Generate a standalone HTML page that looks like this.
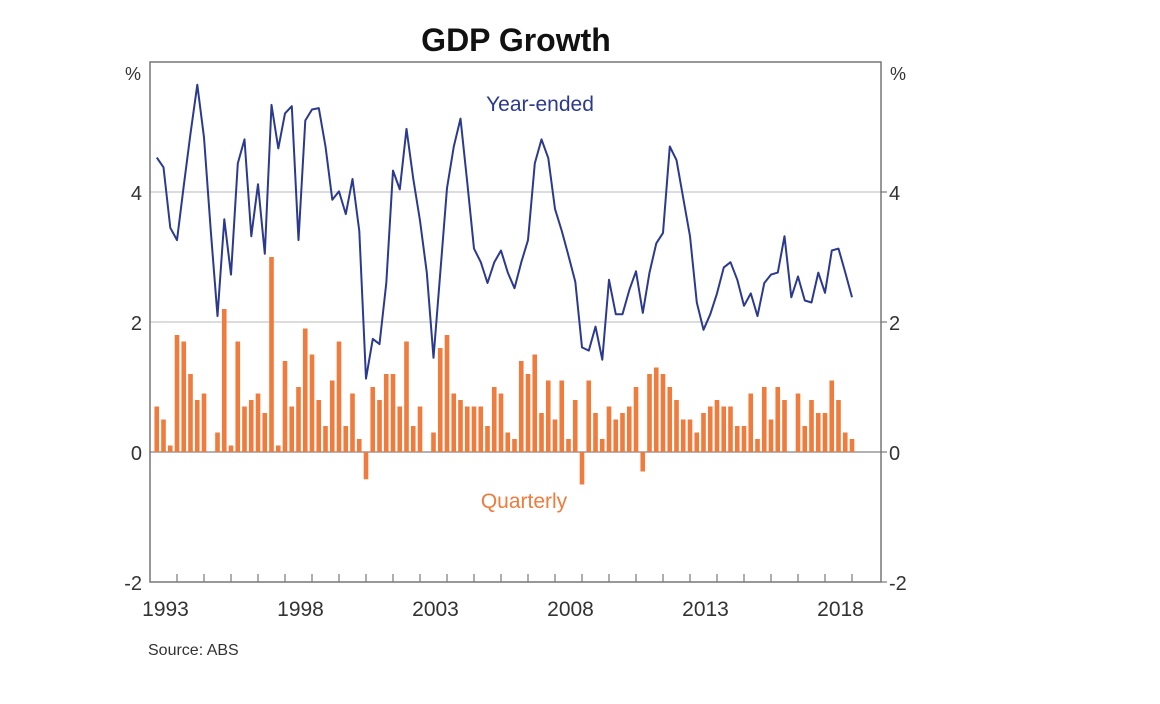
<!DOCTYPE html>
<html><head><meta charset="utf-8"><style>
html,body{margin:0;padding:0;background:#fff;}
svg{display:block;font-family:"Liberation Sans",Arial,sans-serif;}
</style></head><body>
<svg id="chart" width="1160" height="704" viewBox="0 0 1160 704" xmlns="http://www.w3.org/2000/svg">
<rect x="0" y="0" width="1160" height="704" fill="#fff"/>
<text x="516" y="51" text-anchor="middle" font-size="32" font-weight="bold" fill="#111">GDP Growth</text>
<g id="grid"></g>
<g id="bars"></g>
<g id="line"></g>
<g id="axes"></g>
<text x="540" y="111" text-anchor="middle" font-size="21" fill="#2b3a8f">Year-ended</text>
<text x="524" y="508" text-anchor="middle" font-size="21" fill="#ef7b3d">Quarterly</text>
<text x="148" y="655" font-size="16" fill="#333">Source:   ABS</text>
</svg>
<script>
const startYear = 1993.25; // first quarter plotted
const quarterly = [0.7,0.5,0.1,1.8,1.7,1.2,0.8,0.9,0,0.3,2.2,0.1,1.7,0.7,0.8,0.9,0.6,3.0,0.1,1.4,0.7,1.0,1.9,1.5,0.8,0.4,1.1,1.7,0.4,0.9,0.2,-0.42,1.0,0.8,1.2,1.2,0.7,1.7,0.4,0.7,0,0.3,1.6,1.8,0.9,0.8,0.7,0.7,0.7,0.4,1.0,0.9,0.3,0.2,1.4,1.2,1.5,0.6,1.1,0.5,1.1,0.2,0.8,-0.5,1.1,0.6,0.2,0.7,0.5,0.6,0.7,1.0,-0.3,1.2,1.3,1.2,1.0,0.8,0.5,0.5,0.3,0.6,0.7,0.8,0.7,0.7,0.4,0.4,0.9,0.2,1.0,0.5,1.0,0.8,0,0.9,0.4,0.8,0.6,0.6,1.1,0.8,0.3,0.2];
const yearEnded = [4.53,4.38,3.45,3.26,4.1,4.9,5.65,4.84,3.4,2.09,3.58,2.73,4.44,4.81,3.32,4.12,3.05,5.34,4.67,5.21,5.32,3.26,5.1,5.27,5.29,4.7,3.88,4.01,3.66,4.2,3.4,1.13,1.74,1.66,2.6,4.33,4.04,4.97,4.2,3.56,2.76,1.45,2.76,4.06,4.7,5.13,4.14,3.13,2.92,2.6,2.92,3.1,2.76,2.52,2.92,3.26,4.44,4.81,4.52,3.74,3.4,3.02,2.62,1.61,1.56,1.93,1.42,2.65,2.12,2.12,2.49,2.78,2.14,2.76,3.21,3.37,4.7,4.49,3.9,3.32,2.3,1.88,2.12,2.44,2.84,2.92,2.65,2.25,2.44,2.09,2.6,2.73,2.76,3.32,2.38,2.7,2.33,2.3,2.76,2.45,3.1,3.13,2.76,2.38];
const yTicks = [-2,0,2,4];
const yearLabels = [1993,1998,2003,2008,2013,2018];

const L=150,R=881,T=62,B=582;
const xs = t => L + (t-1993)*27.0;
const ys = v => 452 - v*65;
const NS="http://www.w3.org/2000/svg";
function mk(tag, attrs, parent){const e=document.createElementNS(NS,tag);for(const k in attrs)e.setAttribute(k,attrs[k]);parent.appendChild(e);return e;}
const grid=document.getElementById('grid'),bars=document.getElementById('bars'),line=document.getElementById('line'),axes=document.getElementById('axes');

yTicks.forEach(v=>{
  if(v===2||v===4){const g=mk('line',{x1:L,x2:R,y1:ys(v),y2:ys(v),stroke:'#c8c8c8','stroke-width':1.2},grid);
  
  }
  const tl=mk('text',{x:L-8,y:ys(v)+8,'text-anchor':'end','font-size':20,fill:'#333'},axes);tl.textContent=v;
  
  
  const tr=mk('text',{x:R+8,y:ys(v)+8,'text-anchor':'start','font-size':20,fill:'#333'},axes);tr.textContent=v;
  
  
});
const pl=mk('text',{x:133,y:80,'text-anchor':'middle','font-size':18,fill:'#333'},axes);pl.textContent='%';


const pr=mk('text',{x:898,y:80,'text-anchor':'middle','font-size':18,fill:'#333'},axes);pr.textContent='%';



const bw=4.6;
quarterly.forEach((v,i)=>{
  const t=startYear+i*0.25, x=xs(t);
  const r=mk('rect',{x:x-bw/2,y:Math.min(ys(v),ys(0)),width:bw,height:Math.abs(ys(v)-ys(0)),fill:'#ef7b3d'},bars);
  
  
});
const zl=mk('line',{x1:L,x2:R,y1:ys(0),y2:ys(0),stroke:'#999','stroke-width':1.5},grid);



const pts=yearEnded.map((v,i)=>xs(startYear+i*0.25).toFixed(1)+','+ys(v).toFixed(1)).join(' ');
const p=mk('polyline',{points:pts,fill:'none',stroke:'#2b3a8f','stroke-width':2,'stroke-linejoin':'round'},line);



const fr=mk('rect',{x:L,y:T,width:R-L,height:B-T,fill:'none',stroke:'#777','stroke-width':1.5},axes);


for(let y=1994;y<=2019;y++){
  const tk=mk('line',{x1:xs(y),x2:xs(y),y1:B,y2:B-8,stroke:'#777','stroke-width':1.2},axes);
  
  
}
yTicks.forEach(v=>{
  const tk=mk('line',{x1:R,x2:R+6,y1:ys(v),y2:ys(v),stroke:'#777','stroke-width':1.2},axes);
  
  
});
yearLabels.forEach(y=>{
  const t=mk('text',{x:xs(y+0.5)+2,y:616,'text-anchor':'middle','font-size':21,fill:'#333'},axes);t.textContent=y;
  
  
});
</script>
</body></html>
